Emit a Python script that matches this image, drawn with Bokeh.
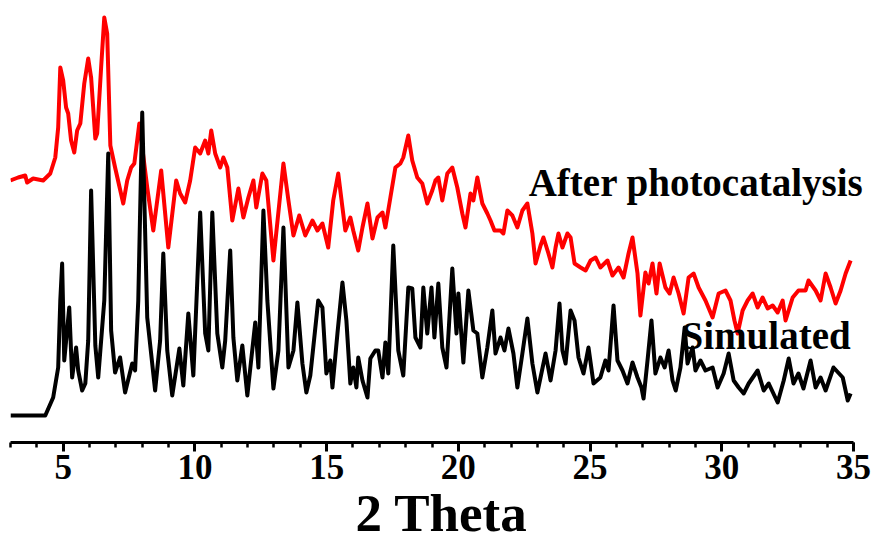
from bokeh.plotting import figure
from bokeh.models import Range1d, SingleIntervalTicker, Label, ColumnDataSource
from bokeh.embed import file_html
from bokeh.resources import INLINE

# Simulated pattern (2 theta, intensity a.u.)
sim_two_theta = [3.00, 4.32, 4.62, 4.81, 4.89, 4.96, 5.04, 5.23, 5.34, 5.49, 5.57, 5.72, 5.84, 5.95, 6.06, 6.22, 6.33, 6.56, 6.71, 6.82,
                 6.97, 7.16, 7.35, 7.62, 7.73, 7.85, 8.00, 8.19, 8.49, 8.68, 8.80, 8.95, 9.14, 9.41, 9.56, 9.75, 9.94, 10.20, 10.39, 10.51,
                 10.66, 10.85, 11.04, 11.15, 11.34, 11.46, 11.61, 11.80, 11.99, 12.29, 12.41, 12.60, 12.75, 12.98, 13.17, 13.36, 13.55, 13.74, 13.89, 14.08,
                 14.23, 14.38, 14.68, 14.84, 14.99, 15.14, 15.22, 15.41, 15.60, 15.75, 15.90, 16.01, 16.13, 16.20, 16.36, 16.55, 16.66, 16.85, 16.96, 17.12,
                 17.23, 17.34, 17.53, 17.72, 17.91, 18.10, 18.25, 18.37, 18.56, 18.67, 18.82, 18.98, 19.09, 19.24, 19.39, 19.55, 19.77, 19.93, 20.00, 20.19,
                 20.38, 20.57, 20.72, 20.91, 21.10, 21.29, 21.41, 21.60, 21.75, 21.90, 22.09, 22.24, 22.43, 22.62, 22.81, 23.00, 23.31, 23.50, 23.69, 23.84,
                 23.95, 24.07, 24.26, 24.41, 24.56, 24.75, 24.94, 25.13, 25.39, 25.58, 25.70, 25.89, 26.04, 26.23, 26.42, 26.61, 26.80, 26.95, 27.03, 27.18,
                 27.33, 27.48, 27.67, 27.83, 27.98, 28.13, 28.25, 28.43, 28.59, 28.70, 28.89, 29.00, 29.19, 29.38, 29.65, 29.84, 30.07, 30.26, 30.45, 30.64,
                 30.83, 31.02, 31.36, 31.59, 31.78, 32.12, 32.35, 32.54, 32.72, 32.91, 33.10, 33.37, 33.56, 33.75, 33.94, 34.24, 34.59, 34.78, 34.89]
sim_intensity = [0, 0, 18, 48, 115, 152, 55, 108, 38, 68, 45, 25, 32, 75, 225, 70, 38, 115, 262, 85,
                 43, 58, 23, 52, 45, 115, 303, 98, 25, 75, 162, 65, 20, 67, 30, 102, 40, 203, 82, 65,
                 203, 82, 48, 75, 165, 78, 35, 70, 20, 93, 48, 205, 115, 27, 65, 188, 48, 65, 113, 52,
                 23, 40, 115, 108, 42, 55, 28, 82, 133, 95, 32, 48, 28, 58, 35, 18, 57, 65, 65, 38,
                 73, 42, 170, 65, 40, 128, 127, 78, 68, 128, 82, 128, 78, 132, 68, 48, 147, 82, 122, 53,
                 125, 85, 82, 38, 68, 105, 62, 78, 65, 87, 62, 28, 62, 97, 52, 23, 62, 35, 65, 112,
                 65, 52, 105, 95, 58, 42, 68, 32, 38, 55, 45, 110, 55, 45, 32, 53, 38, 28, 17, 55,
                 95, 42, 58, 48, 65, 35, 25, 48, 88, 52, 68, 45, 55, 45, 48, 28, 42, 62, 35, 28,
                 22, 32, 45, 25, 32, 13, 35, 57, 32, 42, 27, 55, 28, 38, 25, 48, 38, 15, 22]

# After photocatalysis pattern (offset upward for clarity)
after_two_theta = [3.00, 3.29, 3.56, 3.63, 3.86, 4.24, 4.51, 4.70, 4.81, 4.89, 5.00, 5.11, 5.19, 5.30, 5.42, 5.53, 5.65, 5.80, 5.95, 6.06,
                   6.22, 6.29, 6.44, 6.56, 6.67, 6.79, 6.97, 7.28, 7.43, 7.58, 7.70, 7.89, 8.00, 8.19, 8.42, 8.72, 8.99, 9.29, 9.44, 9.63,
                   9.82, 10.01, 10.20, 10.39, 10.51, 10.62, 10.77, 10.96, 11.08, 11.23, 11.42, 11.65, 11.84, 12.03, 12.22, 12.33, 12.56, 12.71, 12.98, 13.36,
                   13.55, 13.74, 13.96, 14.19, 14.46, 14.65, 14.84, 15.06, 15.25, 15.44, 15.60, 15.71, 15.90, 16.01, 16.20, 16.36, 16.55, 16.74, 16.93, 17.12,
                   17.23, 17.42, 17.61, 17.80, 17.91, 18.10, 18.25, 18.44, 18.63, 18.82, 19.01, 19.13, 19.24, 19.39, 19.58, 19.77, 19.96, 20.15, 20.27, 20.46,
                   20.57, 20.72, 20.91, 21.10, 21.22, 21.37, 21.60, 21.71, 21.86, 22.05, 22.24, 22.43, 22.62, 22.81, 22.93, 23.12, 23.23, 23.42, 23.57, 23.69,
                   23.80, 23.95, 24.14, 24.26, 24.41, 24.64, 24.83, 25.02, 25.21, 25.39, 25.66, 25.85, 26.08, 26.27, 26.46, 26.61, 26.80, 26.91, 27.10, 27.22,
                   27.37, 27.52, 27.64, 27.86, 28.02, 28.17, 28.36, 28.55, 28.74, 28.93, 29.12, 29.38, 29.65, 29.88, 30.14, 30.33, 30.48, 30.60, 30.79, 30.98,
                   31.17, 31.36, 31.55, 31.74, 31.93, 32.12, 32.31, 32.42, 32.69, 32.91, 33.18, 33.29, 33.56, 33.75, 33.94, 34.13, 34.32, 34.51, 34.70, 34.89]
after_intensity = [235, 238, 240, 233, 237, 235, 242, 258, 288, 348, 335, 308, 302, 275, 263, 285, 292, 332, 357, 338,
                   277, 282, 348, 398, 382, 270, 248, 212, 235, 248, 252, 292, 268, 228, 185, 245, 168, 235, 222, 213,
                   235, 268, 262, 275, 262, 285, 262, 248, 258, 248, 195, 227, 198, 218, 235, 208, 242, 235, 155, 252,
                   215, 180, 200, 180, 195, 185, 192, 168, 215, 242, 208, 185, 198, 185, 165, 188, 212, 177, 198, 203,
                   188, 218, 248, 252, 258, 280, 255, 238, 232, 212, 225, 235, 238, 215, 242, 248, 228, 202, 188, 222,
                   215, 238, 212, 202, 195, 185, 185, 182, 205, 200, 188, 205, 212, 182, 152, 170, 178, 162, 148, 168,
                   182, 168, 182, 178, 152, 148, 145, 155, 158, 148, 155, 140, 148, 138, 162, 178, 142, 100, 143, 132,
                   152, 122, 152, 128, 122, 138, 122, 102, 138, 142, 128, 115, 98, 122, 125, 115, 95, 82, 105, 115,
                   122, 108, 118, 107, 110, 103, 115, 95, 118, 125, 125, 135, 125, 115, 142, 128, 112, 125, 142, 155]

x_title = "2 Theta"
series_labels = ["After photocatalysis", "Simulated"]
axis_span = (3, 35)

FONT = "Liberation Serif"

p = figure(width=872, height=544, output_backend="svg", toolbar_location=None,
           x_range=Range1d(3, 35.72), y_range=Range1d(-27, 415),
           y_axis_location=None,
           min_border_left=10, min_border_right=0, min_border_top=0, min_border_bottom=102)
p.outline_line_color = None
p.grid.visible = False
p.background_fill_color = "white"
p.border_fill_color = "white"

after_src = ColumnDataSource(dict(x=after_two_theta, y=after_intensity))
sim_src = ColumnDataSource(dict(x=sim_two_theta, y=sim_intensity))
p.line("x", "y", source=after_src, color="#ff0000", line_width=4, line_join="round")
p.line("x", "y", source=sim_src, color="#000000", line_width=4, line_join="round")

ax = p.xaxis[0]
ax.bounds = axis_span
ax.ticker = SingleIntervalTicker(interval=5, num_minor_ticks=5)
ax.axis_line_width = 3
ax.axis_line_color = "black"
ax.major_tick_line_width = 3
ax.minor_tick_line_width = 2.5
ax.major_tick_out = 9
ax.major_tick_in = 0
ax.minor_tick_out = 5
ax.minor_tick_in = 0
ax.major_label_text_font = FONT
ax.major_label_text_font_style = "bold"
ax.major_label_text_font_size = "35px"
ax.major_label_text_color = "black"
ax.major_label_standoff = 3
ax.axis_label = x_title
ax.axis_label_text_font = FONT
ax.axis_label_text_font_style = "bold"
ax.axis_label_text_font_size = "53px"
ax.axis_label_text_color = "black"
ax.axis_label_standoff = 2

p.add_layout(Label(x=22.67, y=233, text=series_labels[0], text_font=FONT, text_font_style="bold",
                   text_font_size="39px", text_align="left", text_baseline="alphabetic",
                   text_color="black"))
p.add_layout(Label(x=34.89, y=80, text=series_labels[1], text_font=FONT, text_font_style="bold",
                   text_font_size="39px", text_align="right", text_baseline="alphabetic",
                   text_color="black"))

open("out.html", "w").write(file_html(p, INLINE))
